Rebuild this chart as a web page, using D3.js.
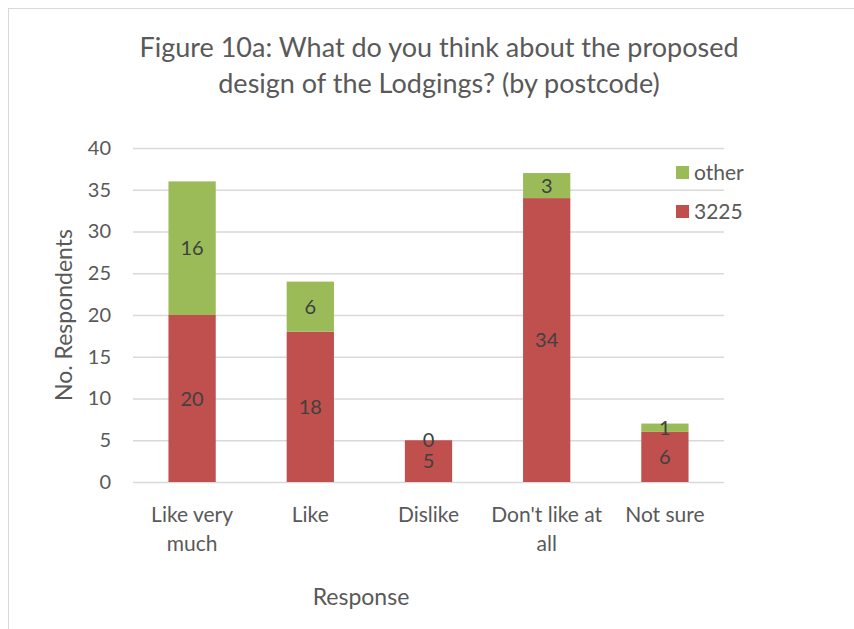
<!DOCTYPE html>
<html><head><meta charset="utf-8">
<script src="https://cdn.jsdelivr.net/npm/d3@7"></script>
<style>body{margin:0;background:#fff}svg{display:block}</style>
</head><body>
<script>
const categories = ["Like very much", "Like", "Dislike", "Don't like at all", "Not sure"];
const catLines = [["Like very", "much"], ["Like"], ["Dislike"], ["Don't like at", "all"], ["Not sure"]];
const seriesNames = ["3225", "other"];
const values3225 = [20, 18, 5, 34, 6];
const valuesOther = [16, 6, 0, 3, 1];
const yTicks = [0, 5, 10, 15, 20, 25, 30, 35, 40];
const colors = {"3225": "#c0504d", "other": "#9bbb59"};

(function () {
const W = 854, H = 629;
const font = "Lato, 'Open Sans', sans-serif";
const svg = d3.select("body").append("svg").attr("width", W).attr("height", H);
svg.append("rect").attr("x", 8.5).attr("y", 8.5).attr("width", W + 20).attr("height", H + 20)
  .attr("fill", "#fff").attr("stroke", "#d9d9d9");

const pLeft = 133, pRight = 724, pTop = 148, pBottom = 482;
const x = d3.scaleBand().domain(categories).range([pLeft, pRight]).paddingInner(0.6).paddingOuter(0.3);
const y = d3.scaleLinear().domain([0, 40]).range([pBottom, pTop]);

svg.append("g").selectAll("line").data(yTicks).join("line")
  .attr("x1", pLeft).attr("x2", pRight)
  .attr("y1", d => y(d) + 0.5).attr("y2", d => y(d) + 0.5)
  .attr("stroke", "#d9d9d9").attr("stroke-width", 1.3);

const yAxis = d3.axisLeft(y).tickValues(yTicks).tickSize(0).tickPadding(0);
const ya = svg.append("g").attr("transform", `translate(111,0)`).call(yAxis);
ya.select(".domain").remove();
ya.selectAll("text").attr("font-family", font).attr("font-size", 20).attr("fill", "#595959");

const stacked = categories.map((c, i) => ({cat: c, "3225": values3225[i], other: valuesOther[i]}));
const stack = d3.stack().keys(seriesNames)(stacked);

svg.append("g").selectAll("g").data(stack).join("g")
  .attr("fill", d => colors[d.key])
  .selectAll("rect").data(d => d).join("rect")
  .attr("x", d => x(d.data.cat)).attr("width", x.bandwidth())
  .attr("y", d => y(d[1])).attr("height", d => y(d[0]) - y(d[1]));

stack.forEach(s => {
  svg.append("g").selectAll("text").data(s).join("text")
    .attr("x", d => x(d.data.cat) + x.bandwidth() / 2)
    .attr("y", d => y((d[0] + d[1]) / 2))
    .attr("dy", "0.35em").attr("text-anchor", "middle")
    .attr("font-family", font).attr("font-size", 20).attr("fill", "#404040")
    .text(d => d.data[s.key]);
});

const xl = svg.append("g");
categories.forEach((c, i) => {
  catLines[i].forEach((ln, j) => {
    xl.append("text").attr("x", x(c) + x.bandwidth() / 2).attr("y", 522 + j * 29)
      .attr("text-anchor", "middle").attr("font-family", font).attr("font-size", 21)
      .attr("fill", "#595959").text(ln);
  });
});

svg.append("text").attr("x", 361).attr("y", 605).attr("text-anchor", "middle")
  .attr("font-family", font).attr("font-size", 23).attr("fill", "#595959").text("Response");
svg.append("text").attr("transform", "translate(72,315) rotate(-90)").attr("text-anchor", "middle")
  .attr("font-family", font).attr("font-size", 23).attr("fill", "#595959").text("No. Respondents");

const tl = ["Figure 10a: What do you think about the proposed", "design of the Lodgings? (by postcode)"];
tl.forEach((t, i) => svg.append("text").attr("x", 439).attr("y", 57 + i * 36).attr("text-anchor", "middle")
  .attr("font-family", font).attr("font-size", 27).attr("fill", "#595959").text(t));

const legendItems = ["other", "3225"];
legendItems.forEach((k, i) => {
  const ly = 166 + i * 39;
  svg.append("rect").attr("x", 676).attr("y", ly).attr("width", 13).attr("height", 13).attr("fill", colors[k]);
  svg.append("text").attr("x", 694).attr("y", ly + 6.5).attr("dy", "0.35em")
    .attr("font-family", font).attr("font-size", 21).attr("fill", "#595959").text(k);
});
})();
</script>
</body></html>
